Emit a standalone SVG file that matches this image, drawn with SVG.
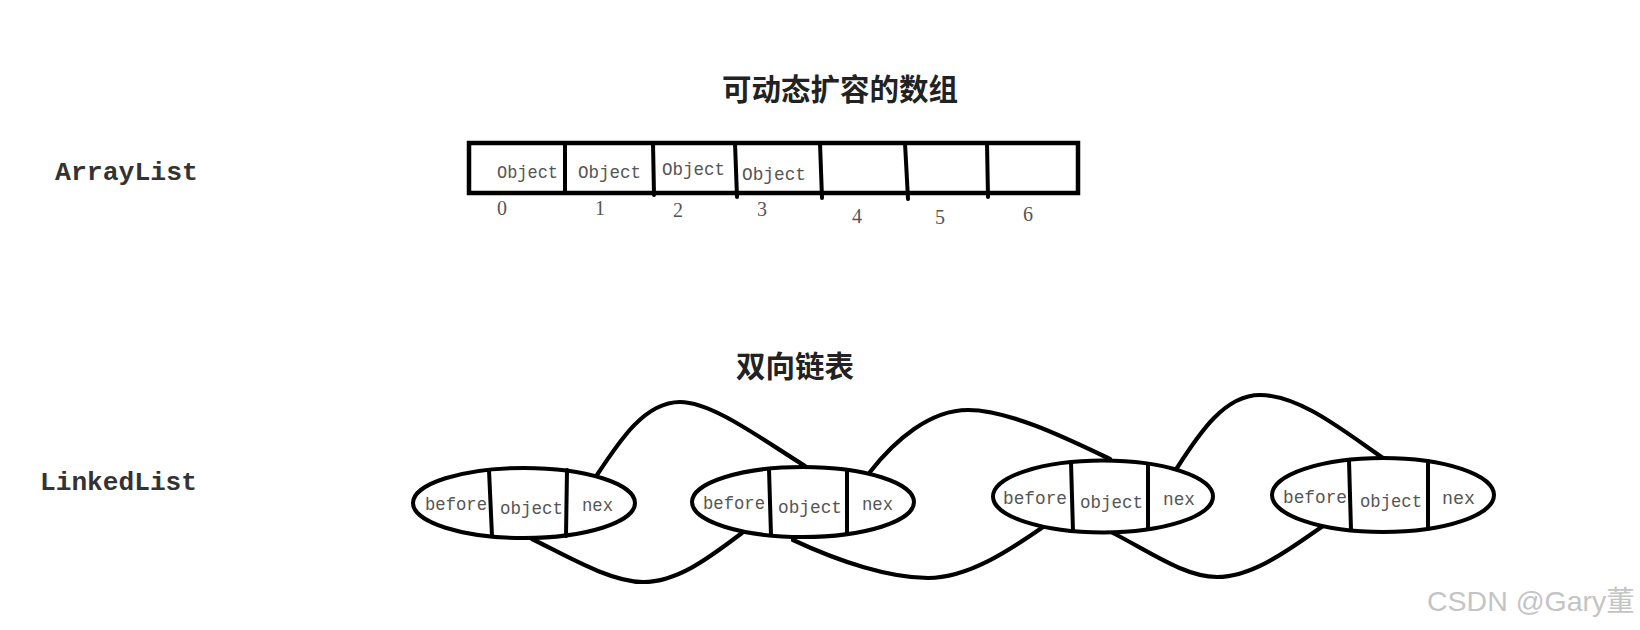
<svg xmlns="http://www.w3.org/2000/svg" width="1640" height="630" viewBox="0 0 1640 630">
<style>
.bg{fill:#fff}
.title{font-family:"Noto Sans CJK SC","Liberation Sans",sans-serif;font-size:29.5px;font-weight:700;fill:#222;text-anchor:middle}
.lbl{font-family:"Liberation Mono",monospace;font-size:26px;font-weight:700;fill:#333}
.cell{font-family:"Liberation Mono",monospace;font-size:19px;fill:#555}
.idx{font-family:"Liberation Serif",serif;font-size:20px;fill:#555;text-anchor:middle}
.box{fill:none;stroke:#000;stroke-width:4.5}
.div{fill:none;stroke:#000;stroke-width:4;stroke-linecap:round}
.ell{fill:#fff;stroke:#000;stroke-width:4}
.ntxt{font-family:"Liberation Mono",monospace;font-size:18px;fill:#555}
.link{fill:none;stroke:#000;stroke-width:4.2;stroke-linecap:round}
.wm{font-family:"Liberation Sans","Noto Sans CJK SC",sans-serif;font-size:28.5px;fill:#c4c4c4}
</style>
<rect class="bg" x="0" y="0" width="1640" height="630"/>

<g id="title-array">
<text class="title" x="840" y="100">可动态扩容的数组</text>
</g>
<g id="label-arraylist">
<text class="lbl" x="55" y="180" textLength="143" lengthAdjust="spacingAndGlyphs">ArrayList</text>
</g>

<g id="array">
<rect class="box" x="469" y="143" width="609" height="50"/>
<line class="div" x1="565" y1="143" x2="565" y2="193"/>
<line class="div" x1="653" y1="143" x2="654" y2="195"/>
<line class="div" x1="735" y1="143" x2="737" y2="197"/>
<line class="div" x1="820" y1="143" x2="822" y2="198"/>
<line class="div" x1="905" y1="143" x2="908" y2="199"/>
<line class="div" x1="987" y1="143" x2="988" y2="197"/>
<text class="cell" x="497" y="178" textLength="61" lengthAdjust="spacingAndGlyphs">Object</text>
<text class="cell" x="578" y="178" textLength="63" lengthAdjust="spacingAndGlyphs">Object</text>
<text class="cell" x="662" y="175" textLength="63" lengthAdjust="spacingAndGlyphs">Object</text>
<text class="cell" x="742" y="180" textLength="64" lengthAdjust="spacingAndGlyphs">Object</text>
<text class="idx" x="502" y="215">0</text>
<text class="idx" x="600" y="215">1</text>
<text class="idx" x="678" y="217">2</text>
<text class="idx" x="762" y="216">3</text>
<text class="idx" x="857" y="223">4</text>
<text class="idx" x="940" y="224">5</text>
<text class="idx" x="1028" y="221">6</text>
</g>

<g id="title-linked">
<text class="title" x="795" y="377">双向链表</text>
</g>
<g id="label-linkedlist">
<text class="lbl" x="40" y="490" textLength="157" lengthAdjust="spacingAndGlyphs">LinkedList</text>
</g>

<g id="connectors">
<path class="link" d="M597,475 C620,440 645,402 680,402 C712,402 760,438 805,466"/>
<path class="link" d="M870,472 C895,440 930,410 968,410 C1010,410 1070,440 1110,459"/>
<path class="link" d="M1177,468 C1200,432 1225,395 1260,395 C1300,395 1345,432 1383,458"/>
<path class="link" d="M532,539 C565,555 610,582 643,582 C680,582 715,553 742,533"/>
<path class="link" d="M793,540 C840,562 890,578 928,578 C968,578 1010,550 1043,527"/>
<path class="link" d="M1113,533 C1150,552 1185,577 1217,577 C1255,577 1295,545 1323,526"/>
</g>

<g id="node1">
<ellipse class="ell" cx="524" cy="503" rx="111" ry="35"/>
<line class="div" x1="489" y1="470" x2="492" y2="536"/>
<line class="div" x1="567" y1="470" x2="566" y2="536"/>
<text class="ntxt" x="425" y="510" textLength="62" lengthAdjust="spacingAndGlyphs">before</text>
<text class="ntxt" x="500" y="514" textLength="63" lengthAdjust="spacingAndGlyphs">object</text>
<text class="ntxt" x="582" y="511" textLength="31" lengthAdjust="spacingAndGlyphs">nex</text>
</g>

<g id="node2">
<ellipse class="ell" cx="803" cy="502" rx="111" ry="35"/>
<line class="div" x1="769" y1="469" x2="771" y2="535"/>
<line class="div" x1="847" y1="470" x2="847" y2="534"/>
<text class="ntxt" x="703" y="509" textLength="62" lengthAdjust="spacingAndGlyphs">before</text>
<text class="ntxt" x="778" y="513" textLength="64" lengthAdjust="spacingAndGlyphs">object</text>
<text class="ntxt" x="862" y="510" textLength="31" lengthAdjust="spacingAndGlyphs">nex</text>
</g>

<g id="node3">
<ellipse class="ell" cx="1103" cy="496.5" rx="110" ry="36"/>
<line class="div" x1="1071" y1="462" x2="1073" y2="531"/>
<line class="div" x1="1148" y1="464" x2="1148" y2="529"/>
<text class="ntxt" x="1003" y="504" textLength="64" lengthAdjust="spacingAndGlyphs">before</text>
<text class="ntxt" x="1080" y="508" textLength="63" lengthAdjust="spacingAndGlyphs">object</text>
<text class="ntxt" x="1163" y="505" textLength="32" lengthAdjust="spacingAndGlyphs">nex</text>
</g>

<g id="node4">
<ellipse class="ell" cx="1383" cy="495" rx="111" ry="37"/>
<line class="div" x1="1349" y1="460" x2="1351" y2="530"/>
<line class="div" x1="1428" y1="461" x2="1428" y2="529"/>
<text class="ntxt" x="1283" y="503" textLength="64" lengthAdjust="spacingAndGlyphs">before</text>
<text class="ntxt" x="1360" y="507" textLength="62" lengthAdjust="spacingAndGlyphs">object</text>
<text class="ntxt" x="1442" y="504" textLength="33" lengthAdjust="spacingAndGlyphs">nex</text>
</g>

<g id="watermark">
<text class="wm" x="1427" y="611">CSDN @Gary董</text>
</g>
</svg>
